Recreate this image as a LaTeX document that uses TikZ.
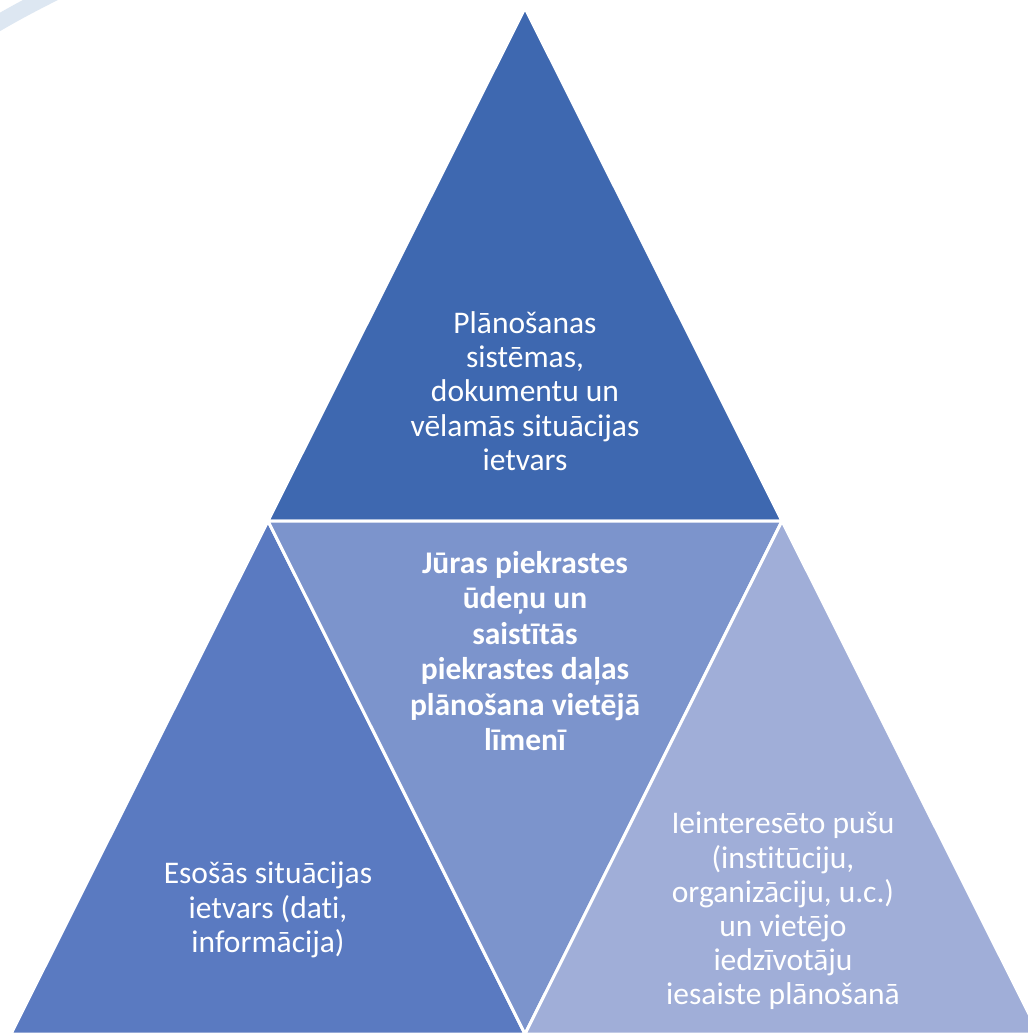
\documentclass[tikz,border=0pt]{standalone}
\usepackage{fontspec}
\setmainfont{Carlito}[Ligatures=NoCommon]
\definecolor{ctop}{RGB}{62,104,176}
\definecolor{cleft}{RGB}{90,122,193}
\definecolor{cmid}{RGB}{124,148,204}
\definecolor{cright}{RGB}{160,174,216}
\definecolor{carc}{RGB}{221,231,242}
\begin{document}
\begin{tikzpicture}[x=1pt,y=-1pt,
  tri/.style={draw=white,line width=3pt,line join=miter},
  lbl/.style={text=white,align=center,font=\fontsize{31.5}{34.2}\selectfont,inner sep=0pt}]
\useasboundingbox (0,0) rectangle (1028,1034);
\fill[white] (0,0) rectangle (1028,1034);
\begin{scope}
\clip (0,0) rectangle (1028,1034);
\draw[carc,line width=16pt] (-30,40) .. controls (5,18) and (30,5) .. (60,-10);
\coordinate (A) at (525,8);
\coordinate (L) at (268,521);
\coordinate (R) at (782,521);
\coordinate (BL) at (11,1034);
\coordinate (BM) at (525,1034);
\coordinate (BR) at (1039,1034);
\filldraw[tri,fill=ctop] (A) -- (L) -- (R) -- cycle;
\filldraw[tri,fill=cleft] (L) -- (BL) -- (BM) -- cycle;
\filldraw[tri,fill=cmid] (L) -- (R) -- (BM) -- cycle;
\filldraw[tri,fill=cright] (R) -- (BM) -- (BR) -- cycle;
\end{scope}
\node[lbl] (t) at (525,391) {Plānošanas\\sistēmas,\\dokumentu un\\vēlamās situācijas\\ietvars};
\node[lbl,font=\bfseries\fontsize{31.5}{35.5}\selectfont] (m) at (525,651) {Jūras piekrastes\\ūdeņu un\\saistītās\\piekrastes daļas\\plānošana vietējā\\līmenī};
\node[lbl] (l) at (268,910) {Esošās situācijas\\ietvars (dati,\\informācija)};
\node[lbl] (r) at (783,911) {Ieinteresēto pušu\\(institūciju,\\organizāciju, u.c.)\\un vietējo\\iedzīvotāju\\iesaiste plānošanā};
\end{tikzpicture}
\end{document}
